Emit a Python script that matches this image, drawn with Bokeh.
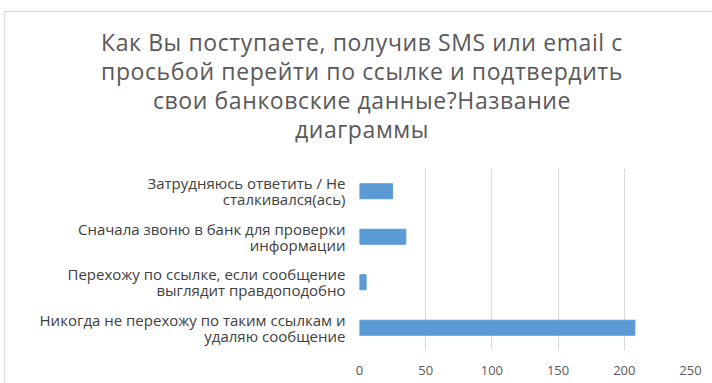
from bokeh.plotting import figure
from bokeh.models import FactorRange, Range1d, FixedTicker, Div
from bokeh.layouts import column
from bokeh.embed import file_html
from bokeh.resources import INLINE

categories = [
    "Никогда не перехожу по таким ссылкам и\nудаляю сообщение",
    "Перехожу по ссылке, если сообщение\nвыглядит правдоподобно",
    "Сначала звоню в банк для проверки\nинформации",
    "Затрудняюсь ответить / Не\nсталкивался(ась)",
]
values = [208, 5, 35, 25]
x_ticks = [0, 50, 100, 150, 200, 250]
title_lines = [
    "Как Вы поступаете, получив SMS или email с",
    "просьбой перейти по ссылке и подтвердить",
    "свои банковские данные?Название",
    "диаграммы",
]

FONT = "Open Sans"
GRAY = "#595959"

title_html = (
    '<div style="width:680px;padding:16px 0 0 34px;text-align:center;white-space:nowrap;'
    f'font-family:\'{FONT}\';font-size:23px;letter-spacing:0.6px;line-height:29px;color:{GRAY};">'
    + "<br>".join(title_lines) + "</div>"
)
title_div = Div(text=title_html, width=707, height=146, margin=(0, 0, 0, 0))

p = figure(width=707, height=225, output_backend="svg", toolbar_location=None,
           y_range=FactorRange(factors=categories, range_padding=0),
           x_range=Range1d(0, 250))
p.margin = (0, 0, 0, 0)
p.min_border_left = 354
p.min_border_right = 22
p.min_border_top = 10
p.min_border_bottom = 33
p.outline_line_color = None
p.border_fill_color = "white"
p.background_fill_color = "white"

p.hbar(y=categories, right=values, height=0.33, left=0,
       fill_color="#5B9BD5", line_color="#5B9BD5")

p.xaxis.ticker = FixedTicker(ticks=x_ticks)
p.xaxis.axis_line_color = None
p.xaxis.major_tick_line_color = None
p.xaxis.minor_tick_line_color = None
p.xaxis.major_label_text_font = FONT
p.xaxis.major_label_text_font_size = "13px"
p.xaxis.major_label_text_color = GRAY
p.xaxis.major_label_standoff = 9

p.yaxis.axis_line_color = None
p.yaxis.major_tick_line_color = None
p.yaxis.major_label_text_font = FONT
p.yaxis.major_label_text_font_size = "15px"
p.yaxis.major_label_text_line_height = 0.8
p.yaxis.major_label_text_color = "#404040"
p.yaxis.major_label_standoff = 8

p.xgrid.grid_line_color = "#D9D9D9"
p.ygrid.grid_line_color = None

layout = column(title_div, p, spacing=0, margin=(12, 0, 0, 5),
                styles={"outline": "1px solid #D9D9D9", "background": "white"})

open("out.html", "w").write(file_html(layout, INLINE))
